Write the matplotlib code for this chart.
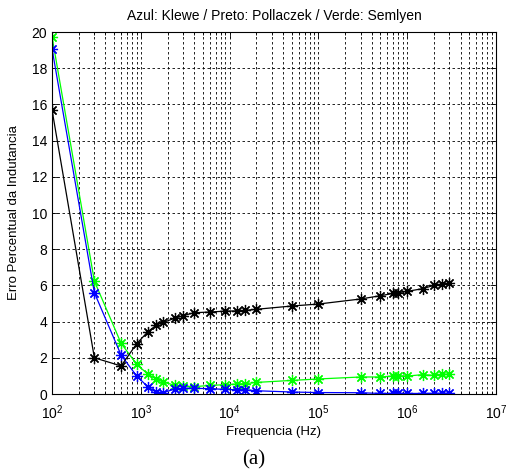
import matplotlib
matplotlib.use('Agg')
import matplotlib.pyplot as plt
from matplotlib.ticker import LogLocator, NullFormatter, FuncFormatter
import numpy as np

# Frequencias simuladas (Hz)
freq = [100, 300, 600, 900, 1200, 1500, 1800, 2400, 3000, 4000, 6000, 9000,
        12000, 15000, 20000, 50000, 1e5, 3e5, 5e5, 7e5, 8e5, 1e6, 1.5e6,
        2e6, 2.5e6, 3e6]

# Erro percentual da indutancia (%)
erro_klewe = [19.08, 5.6, 2.15, 0.99, 0.4, 0.09, 0.08, 0.27, 0.31, 0.31, 0.3,
              0.25, 0.24, 0.24, 0.18, 0.11, 0.08, 0.07, 0.03, 0.03, 0.03,
              0.03, 0.03, 0.03, 0.03, 0.03]
erro_pollaczek = [15.7, 2.0, 1.55, 2.78, 3.44, 3.81, 3.96, 4.18, 4.33, 4.49,
                  4.53, 4.58, 4.59, 4.62, 4.68, 4.86, 4.97, 5.25, 5.43, 5.56,
                  5.6, 5.67, 5.82, 6.0, 6.08, 6.13]
erro_semlyen = [19.74, 6.24, 2.8, 1.64, 1.1, 0.82, 0.65, 0.49, 0.43, 0.41,
                0.47, 0.52, 0.55, 0.57, 0.64, 0.75, 0.83, 0.94, 0.94, 1.0,
                1.01, 0.99, 1.07, 1.03, 1.09, 1.09]

plt.rcParams['font.family'] = ['Liberation Sans', 'DejaVu Sans']
plt.rcParams['mathtext.fontset'] = 'custom'
plt.rcParams['mathtext.rm'] = 'Liberation Sans'

fig = plt.figure(figsize=(5.07, 4.70), dpi=100)
ax = fig.add_axes([0.1026, 0.1617, 0.8754, 0.7702])

# asterisco estilo MATLAB (+ e x sobrepostos)
star = (8, 2, 0)
ax.semilogx(freq, erro_semlyen, '-', marker=star, color='#00ff00', lw=0.9, ms=8, mew=0.9)
ax.semilogx(freq, erro_klewe, '-', marker=star, color='#0000ff', lw=0.9, ms=8, mew=0.9)
ax.semilogx(freq, erro_pollaczek, '-', marker=star, color='black', lw=0.9, ms=8, mew=0.9)

ax.set_xlim(1e2, 1e7)
ax.set_ylim(0, 20)
ax.set_yticks(range(0, 21, 2))
ax.xaxis.set_major_locator(LogLocator(base=10, numticks=10))
ax.xaxis.set_minor_locator(LogLocator(base=10, subs=range(2, 10), numticks=50))
ax.xaxis.set_minor_formatter(NullFormatter())
ax.xaxis.set_major_formatter(FuncFormatter(
    lambda v, p: r'$\mathregular{10^{%d}}$' % int(round(np.log10(v)))))

ax.grid(True, which='major', color='black', ls=(0, (3, 3)), lw=0.6)
ax.grid(True, which='minor', axis='x', color='black', ls=(0, (3, 3)), lw=0.6)
ax.tick_params(which='both', direction='in', top=True, right=True,
               labelsize=10, width=0.6)
ax.tick_params(which='major', length=4)
ax.tick_params(which='minor', length=2)
ax.tick_params(axis='x', pad=7)
for s in ax.spines.values():
    s.set_linewidth(0.8)

ax.set_title('Azul: Klewe / Preto: Pollaczek / Verde: Semlyen', fontsize=10, pad=9)
ax.set_xlabel('Frequencia (Hz)', fontsize=9.5, labelpad=3)
ax.set_ylabel('Erro Percentual da Indutancia', fontsize=9.5, labelpad=8)
fig.text(0.5, 0.012, '(a)', ha='center', family='Liberation Serif', fontsize=15)

fig.savefig('out.png', dpi=100)
